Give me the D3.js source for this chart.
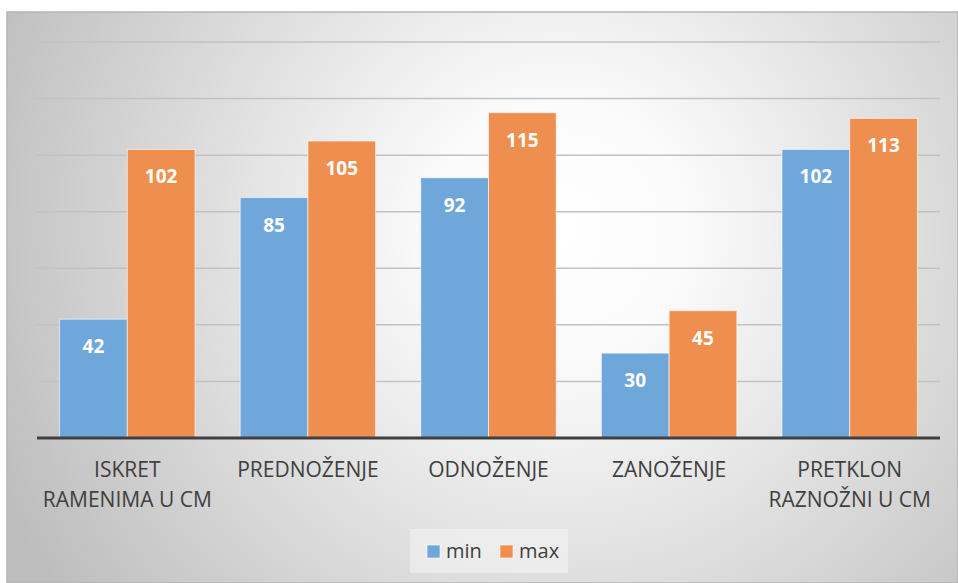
<!DOCTYPE html>
<meta charset="utf-8">
<style>
body { margin: 0; background: #fff; }
text { font-family: "Open Sans", sans-serif; }
.cat { fill: #404040; font-size: 21px; }
.val { fill: #fff; font-size: 19px; font-weight: bold; }
.leg { fill: #404040; font-size: 20px; }
</style>
<body>
<script src="https://d3js.org/d3.v7.min.js"></script>
<script>

var categories = [["ISKRET", "RAMENIMA U CM"], ["PREDNOŽENJE"], ["ODNOŽENJE"], ["ZANOŽENJE"], ["PRETKLON", "RAZNOŽNI U CM"]];
var minValues = [42, 85, 92, 30, 102];
var maxValues = [102, 105, 115, 45, 113];
var seriesNames = ["min", "max"];
var colors = ["#6FA7DB", "#EF8F4F"];
var yTicks = [0, 20, 40, 60, 80, 100, 120, 140];

var W = 958, H = 583;
var plotLeft = 37, plotRight = 940, plotTop = 42, plotBottom = 438;

var svg = d3.select("body").append("svg")
    .attr("width", W)
    .attr("height", H);

var defs = svg.append("defs");
var grad = defs.append("radialGradient")
    .attr("id", "bg")
    .attr("gradientUnits", "userSpaceOnUse")
    .attr("cx", 560).attr("cy", 230).attr("r", 620);
grad.append("stop").attr("offset", "0").attr("stop-color", "#ffffff");
grad.append("stop").attr("offset", "0.2").attr("stop-color", "#fbfbfb");
grad.append("stop").attr("offset", "1").attr("stop-color", "#bdbdbd");

svg.append("rect")
    .attr("x", 7).attr("y", 12)
    .attr("width", W - 7).attr("height", H - 12)
    .attr("fill", "url(#bg)")
    .attr("stroke", "#b5b5b5")
    .attr("stroke-width", 1.5);

var x = d3.scaleBand()
    .domain(d3.range(categories.length))
    .range([plotLeft, plotRight])
    .paddingInner(0.25)
    .paddingOuter(0.125);

var x1 = d3.scaleBand()
    .domain([0, 1])
    .range([0, x.bandwidth()])
    .padding(0);

var y = d3.scaleLinear().domain([0, 140]).range([plotBottom, plotTop]);

// gridlines
svg.append("g")
    .selectAll("line")
    .data(yTicks.slice(1))
    .enter().append("line")
    .attr("x1", plotLeft).attr("x2", plotRight)
    .attr("y1", function(d) { return y(d); })
    .attr("y2", function(d) { return y(d); })
    .attr("stroke", "#c2c2c2")
    .attr("stroke-width", 1.5);

var data = categories.map(function(c, i) { return [minValues[i], maxValues[i]]; });

var groups = svg.append("g")
    .selectAll("g")
    .data(data)
    .enter().append("g")
    .attr("transform", function(d, i) { return "translate(" + x(i) + ",0)"; });

groups.selectAll("rect")
    .data(function(d) { return d; })
    .enter().append("rect")
    .attr("x", function(d, j) { return x1(j); })
    .attr("y", function(d) { return y(d); })
    .attr("width", x1.bandwidth())
    .attr("height", function(d) { return y(0) - y(d); })
    .attr("fill", function(d, j) { return colors[j]; })
    .attr("stroke", "rgba(255,255,255,0.6)")
    .attr("stroke-width", 1);

groups.selectAll("text")
    .data(function(d) { return d; })
    .enter().append("text")
    .attr("class", "val")
    .attr("x", function(d, j) { return x1(j) + x1.bandwidth() / 2; })
    .attr("y", function(d) { return y(d) + 34; })
    .attr("text-anchor", "middle")
    .text(function(d) { return d; });

// baseline
svg.append("line")
    .attr("x1", plotLeft).attr("x2", plotRight)
    .attr("y1", y(0)).attr("y2", y(0))
    .attr("stroke", "#404040")
    .attr("stroke-width", 3);

// category labels
var cats = svg.append("g")
    .selectAll("text")
    .data(categories)
    .enter().append("text")
    .attr("class", "cat")
    .attr("text-anchor", "middle")
    .attr("x", function(d, i) { return x(i) + x.bandwidth() / 2; })
    .attr("y", 477);

cats.selectAll("tspan")
    .data(function(d) { return d; })
    .enter().append("tspan")
    .attr("x", function() { return d3.select(this.parentNode).attr("x"); })
    .attr("dy", function(d, k) { return k === 0 ? 0 : 30; })
    .text(function(d) { return d; });

// legend
var legend = svg.append("g");
legend.append("rect")
    .attr("x", 410).attr("y", 529)
    .attr("width", 158).attr("height", 44)
    .attr("fill", "#f3f3f3")
    .attr("opacity", 0.6);

var legX = [427, 500];
seriesNames.forEach(function(name, i) {
  legend.append("rect")
      .attr("x", legX[i]).attr("y", 545)
      .attr("width", 13).attr("height", 13)
      .attr("fill", colors[i])
      .attr("stroke", "rgba(255,255,255,0.6)");
  legend.append("text")
      .attr("class", "leg")
      .attr("x", legX[i] + 19).attr("y", 558)
      .text(name);
});

</script>
</body>
